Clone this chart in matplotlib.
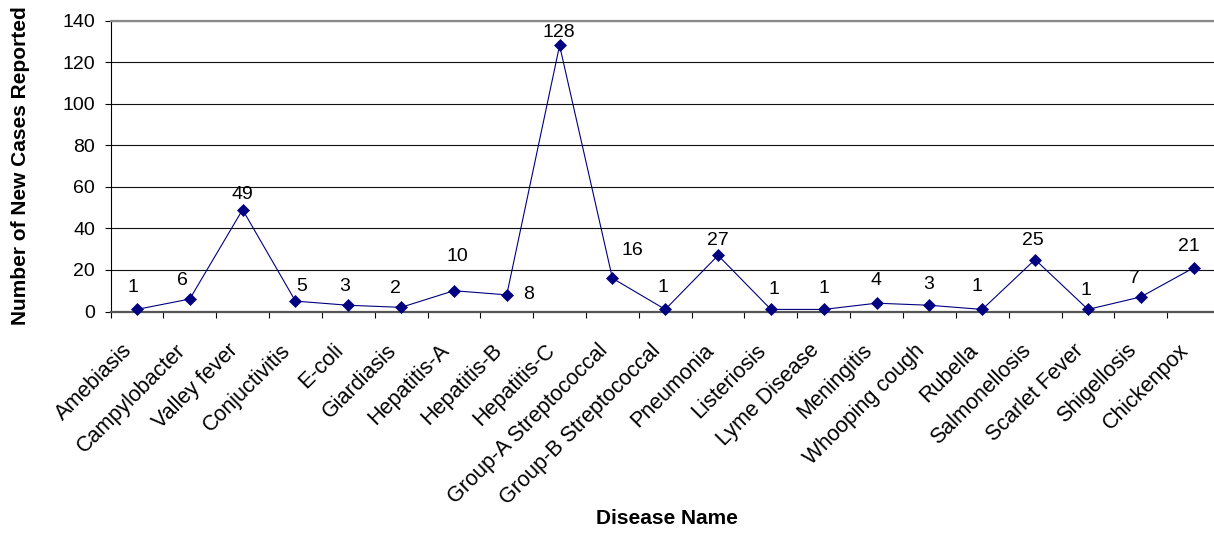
import matplotlib
matplotlib.use("Agg")
import matplotlib.pyplot as plt
import matplotlib.transforms as mtransforms
from matplotlib.ticker import FixedLocator

plt.rcParams['font.family'] = ['Liberation Sans', 'DejaVu Sans']

diseases = ["Amebiasis", "Campylobacter", "Valley fever", "Conjuctivitis", "E-coli",
            "Giardiasis", "Hepatitis-A", "Hepatitis-B", "Hepatitis-C",
            "Group-A Streptococcal", "Group-B Streptococcal", "Pneumonia", "Listeriosis",
            "Lyme Disease", "Meningitis", "Whooping cough", "Rubella", "Salmonellosis",
            "Scarlet Fever", "Shigellosis", "Chickenpox"]
cases = [1, 6, 49, 5, 3, 2, 10, 8, 128, 16, 1, 27, 1, 1, 4, 3, 1, 25, 1, 7, 21]
y_ticks = [0, 20, 40, 60, 80, 100, 120, 140]

# label offsets in pixels (dx right, dy down) relative to each point
label_dx = [-4, -7, 0, 6, -4, -6, 3, 22, -1, 20, -2, 0, 3, 0, -1, -1, -5, -2, -2, -6, -5]
label_dy = [-22, -19, -15, -15, -19, -19, -34, 0, -13, -28, -22, -15, -20, -21, -23, -21, -23, -19, -19, -18, -21]

W, H = 1214, 533
fig = plt.figure(figsize=(W / 100, H / 100), dpi=100)
left, right, top, bottom = 110.5, 1220, 20.5, 311.5
ax = fig.add_axes([left / W, 1 - bottom / H, (right - left) / W, (bottom - top) / H])

x = list(range(len(diseases)))
ax.plot(x, cases, color='#000080', lw=0.8, marker='D', ms=6.5,
        mfc='#000080', mec='#000080', mew=0.5, zorder=3, clip_on=False)

px2pt = 0.72
for i, v in enumerate(cases):
    ax.annotate(str(v), (i, v), xytext=(label_dx[i] * px2pt, -label_dy[i] * px2pt),
                textcoords='offset points', ha='center', va='center',
                fontsize=14, color='black', zorder=4, annotation_clip=False)

ax.set_xlim(-0.5, len(diseases) - 0.5)
ax.set_ylim(0, 140)
ax.set_yticks(y_ticks)
ax.set_yticklabels([str(t) for t in y_ticks], fontsize=14)
ax.set_xticks(x)
ax.set_xticklabels(diseases, fontsize=15.5, rotation=45, ha='right', va='top',
                   rotation_mode='anchor')
ax.xaxis.set_minor_locator(FixedLocator([i - 0.5 for i in range(len(diseases) + 1)]))
ax.tick_params(axis='x', which='major', length=0, pad=20.5)
ax.tick_params(axis='x', which='minor', length=4, width=0.8, direction='out', color='black')
ax.tick_params(axis='y', which='major', length=4, width=0.8, direction='out', pad=7, color='black')

shift = mtransforms.ScaledTranslation(-15 / 100, 0, fig.dpi_scale_trans)
for lab in ax.get_xticklabels():
    lab.set_transform(lab.get_transform() + shift)

ax.yaxis.grid(True, color='#111111', lw=0.8)
ax.set_axisbelow(True)

ax.spines['right'].set_visible(False)
ax.spines['top'].set_color('#8a8a8a')
ax.spines['top'].set_linewidth(1.6)
ax.spines['bottom'].set_color('#555555')
ax.spines['bottom'].set_linewidth(1.6)
ax.spines['left'].set_color('black')
ax.spines['left'].set_linewidth(0.8)

fig.text(21 / W, 1 - 166 / H, "Number of New Cases Reported", rotation=90,
         ha='center', va='center', fontsize=15, fontweight='bold')
fig.text(667 / W, 1 - 519 / H, "Disease Name", ha='center', va='center',
         fontsize=15, fontweight='bold')

fig.savefig("out.png", dpi=100)
